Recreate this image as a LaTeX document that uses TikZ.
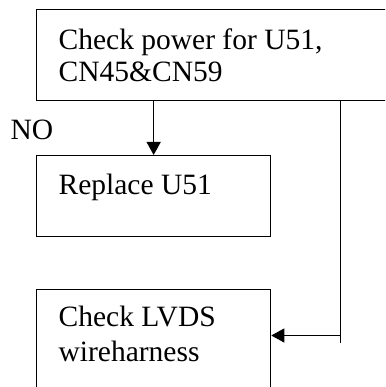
\documentclass[tikz,border=0pt]{standalone}
\usepackage{fontspec}
\setmainfont{Liberation Serif}
\usetikzlibrary{arrows.meta, calc}

\tikzset{
  box/.style={draw, line width=1.3pt, anchor=north west, inner sep=0pt},
  txt/.style={anchor=base west, align=left, inner sep=0pt,
    font=\fontsize{29.5}{32}\selectfont},
}

\begin{document}
\begin{tikzpicture}[x=1pt, y=-1pt, >={Triangle[length=13pt, width=14pt]}, line width=1.3pt]
  \useasboundingbox (0,0) rectangle (385,387);
  \clip (0,0) rectangle (385,387);
  % boxes
  \node[box, minimum width=400pt, minimum height=91pt] (chk) at (36,9) {};
  \node[box, minimum width=234pt, minimum height=81pt] (rep) at (36,155) {};
  \node[box, minimum width=234pt, minimum height=120pt] (lvds) at (36,289) {};
  % texts (base = last line)
  \node[txt] (chkT) at ($(chk.north west)+(22,73)$) {Check power for U51,\\CN45\&CN59};
  \node[txt] (repT) at ($(rep.north west)+(22,39)$) {Replace U51};
  \node[txt, font=\fontsize{29.5}{35}\selectfont] (lvdsT) at ($(lvds.north west)+(22,72.7)$) {Check LVDS\\wireharness};
  \node[txt] (no) at (10,140) {NO};
  % connectors
  \coordinate (yesEnd) at (340.5,343);
  \coordinate (lvdsIn) at ($(lvds.north east)+(0,46.5)$);
  \draw[->] (chk.south -| rep.north) -- (rep.north);
  \draw (chk.south -| yesEnd) -- (yesEnd);
  \draw[->] (yesEnd |- lvdsIn) -- (lvdsIn);
\end{tikzpicture}
\end{document}
